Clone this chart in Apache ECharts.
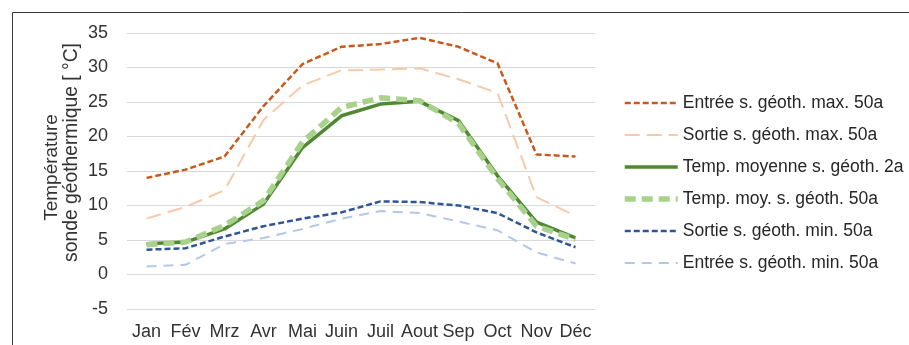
<!DOCTYPE html>
<html><head><meta charset="utf-8">
<script src="https://cdn.jsdelivr.net/npm/echarts@6/dist/echarts.min.js"></script>
<style>html,body{margin:0;padding:0;background:#fff}#c{width:909px;height:345px}</style>
</head><body><div id="c"></div>
<script>
var months = ['Jan','Fév','Mrz','Avr','Mai','Juin','Juil','Aout','Sep','Oct','Nov','Déc'];
var entreeMax50 = [14.0,15.2,17.1,24.4,30.5,33.0,33.4,34.3,33.0,30.6,17.4,17.1];
var sortieMax50 = [8.1,9.8,12.2,22.4,27.4,29.6,29.7,29.9,28.3,26.3,11.2,8.5];
var tempMoy2 = [4.45,4.7,6.6,10.2,18.4,23.0,24.7,25.1,22.3,14.3,7.6,5.3];
var tempMoy50 = [4.3,4.7,7.1,10.7,19.2,24.2,25.6,25.2,21.9,13.9,7.0,5.1];
var sortieMin50 = [3.6,3.8,5.5,7.0,8.1,9.0,10.6,10.5,10.0,8.9,6.1,3.95];
var entreeMin50 = [1.15,1.4,4.4,5.3,6.6,8.1,9.2,8.9,7.7,6.4,3.2,1.6];
var yTicks = {min:-5, max:35, interval:5};
var names = ['Entrée s. géoth. max. 50a','Sortie s. géoth. max. 50a','Temp. moyenne s. géoth. 2a','Temp. moy. s. géoth. 50a','Sortie s. géoth. min. 50a','Entrée s. géoth. min. 50a'];
var yTitle1 = 'Température';
var yTitle2 = 'sonde géothermique [ °C]';

var colors = ['#c9581c','#f8c9a8','#4f8a32','#a8d18c','#2f5597','#b4c7e7'];
var widths = [2.5,2,3.5,5.5,2.5,2];
var dashes = [[6,3],[15,7],'solid',[11,6],[6,3],[10,7]];
var zs = [5,4,3,6,5,4];
var seriesData = [entreeMax50, sortieMax50, tempMoy2, tempMoy50, sortieMin50, entreeMin50];

var chart = echarts.init(document.getElementById('c'), null, {renderer:'canvas'});
var FONT = 'Liberation Sans, Arial, sans-serif';
chart.setOption({
  animation:false,
  textStyle:{fontFamily:FONT},
  graphic:[
    {type:'rect', shape:{x:12.5,y:12.5,width:920,height:360}, style:{fill:'none', stroke:'#3a3a3a', lineWidth:1}, silent:true},
    {type:'text', x:52, y:167.5, rotation:Math.PI/2, style:{text:yTitle1, font:'19px '+FONT, fill:'#333', align:'center', verticalAlign:'middle'}},
    {type:'text', x:72, y:152.5, rotation:Math.PI/2, style:{text:yTitle2, font:'19.3px '+FONT, fill:'#333', align:'center', verticalAlign:'middle'}}
  ],
  grid:{left:127, right:314, top:33, bottom:36},
  legend:{orient:'vertical', left:622, top:94, padding:0, itemWidth:53, itemHeight:14, itemGap:14,
    itemStyle:{opacity:0},
    textStyle:{fontSize:17.5, color:'#262626', fontFamily:FONT},
    data:names.map(function(n,i){return {name:n, lineStyle:{width:widths[i], type:dashes[i], color:colors[i]}};})},
  xAxis:{type:'category', data:months, boundaryGap:true,
    axisLine:{show:false}, axisTick:{show:false},
    axisLabel:{fontSize:18, color:'#333', margin:14, interval:0}},
  yAxis:{type:'value', min:yTicks.min, max:yTicks.max, interval:yTicks.interval,
    axisLabel:{fontSize:18, color:'#333', margin:19},
    axisLine:{show:false}, axisTick:{show:false},
    splitLine:{lineStyle:{color:'#d9d9d9', width:1}}},
  series:names.map(function(n,i){
    return {name:n, type:'line', data:seriesData[i], symbol:'none', showSymbol:false, z:zs[i],
      lineStyle:{color:colors[i], width:widths[i], type:dashes[i], cap:'butt'}, itemStyle:{color:colors[i]}};
  })
});
</script></body></html>
